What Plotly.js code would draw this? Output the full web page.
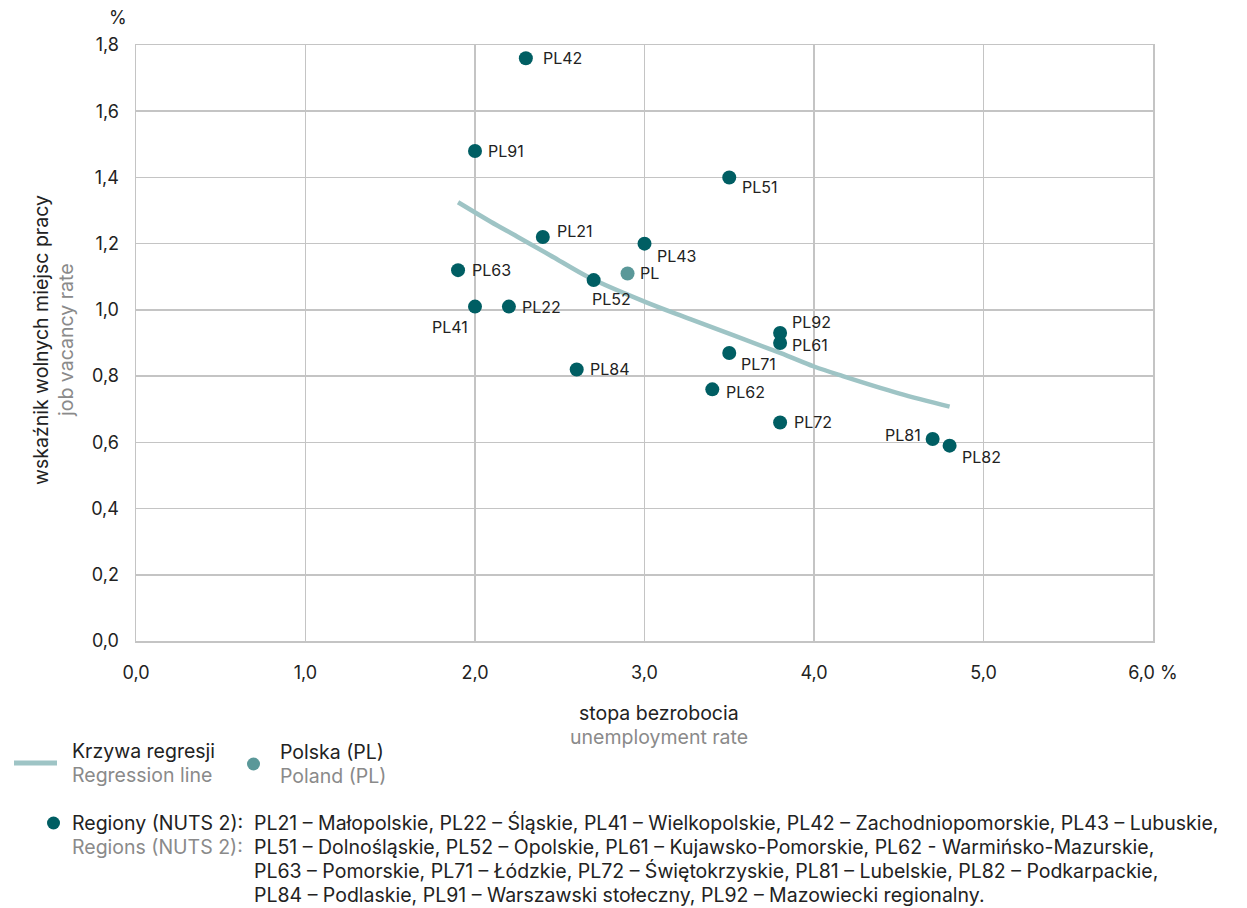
<!DOCTYPE html>
<html><head><meta charset="utf-8">
<script src="https://cdn.plot.ly/plotly-3.0.1.min.js"></script>
<style>body{margin:0;background:#fff}#chart{width:1247px;height:908px}</style>
</head><body><div id="chart"></div>
<script>
// Regions (NUTS 2)
const regionCodes = ['PL42','PL91','PL51','PL21','PL43','PL63','PL52','PL41','PL22','PL92','PL61','PL71','PL84','PL62','PL72','PL81','PL82'];
const regionUnemp = [2.3, 2.0, 3.5, 2.4, 3.0, 1.9, 2.7, 2.0, 2.2, 3.8, 3.8, 3.5, 2.6, 3.4, 3.8, 4.7, 4.8];
const regionVacancy = [1.76, 1.48, 1.40, 1.22, 1.20, 1.12, 1.09, 1.01, 1.01, 0.93, 0.90, 0.87, 0.82, 0.76, 0.66, 0.61, 0.59];
// Poland
const polandCode = ['PL'];
const polandUnemp = [2.9];
const polandVacancy = [1.11];
// Regression curve
const regX = [1.9, 2.09, 2.25, 2.44, 2.68, 3.0, 3.27, 3.8, 4.0, 4.17, 4.5, 4.8];
const regY = [1.325, 1.267, 1.221, 1.166, 1.096, 1.025, 0.972, 0.870, 0.829, 0.800, 0.748, 0.708];
// Ticks
const xTicks = [0,1,2,3,4,5,6];
const xTickText = ['0,0','1,0','2,0','3,0','4,0','5,0','6,0 %'];
const yTicks = [0,0.2,0.4,0.6,0.8,1.0,1.2,1.4,1.6,1.8];
const yTickText = ['0,0','0,2','0,4','0,6','0,8','1,0','1,2','1,4','1,6','1,8'];
// Legend texts
const legendRegionLines = [
 'PL21 – Małopolskie, PL22 – Śląskie, PL41 – Wielkopolskie, PL42 – Zachodniopomorskie, PL43 – Lubuskie,',
 'PL51 – Dolnośląskie, PL52 – Opolskie, PL61 – Kujawsko-Pomorskie, PL62 - Warmińsko-Mazurskie,',
 'PL63 – Pomorskie, PL71 – Łódzkie, PL72 – Świętokrzyskie, PL81 – Lubelskie, PL82 – Podkarpackie,',
 'PL84 – Podlaskie, PL91 – Warszawski stołeczny, PL92 – Mazowiecki regionalny.'
];

// label placement styles (anchor, x shift px, y shift px) per region
const labelAnchor = ['left','left','left','left','left','left','center','right','left','left','left','left','left','left','left','right','left'];
const labelDX = [15,11,11,12,10,12,18,-5,11,10,10,10,11,12,12,-10,10];
const labelDY = [0,0,-10,6,-12,0,-19,-20,0,11,-2,-11,0,-3,0,4,-11];

const DARK = '#005e63', PLC = '#5a9899', REGC = '#9ec4c5';
const FONT = 'Inter, "Open Sans", sans-serif';
const TXT = '#222', GREY = '#8a8a8a';
const FS = 19.5;

const traces = [
 {x: regX, y: regY, mode:'lines', type:'scatter', line:{color:REGC, width:4.5, shape:'spline', smoothing:1}, hoverinfo:'skip'},
 {x: regionUnemp, y: regionVacancy, mode:'markers', type:'scatter', marker:{color:DARK, size:14}},
 {x: polandUnemp, y: polandVacancy, mode:'markers', type:'scatter', marker:{color:PLC, size:14}}
];

const ann = [];
regionCodes.forEach((c,i)=>ann.push({x:regionUnemp[i], y:regionVacancy[i], text:c, showarrow:false,
  xanchor:labelAnchor[i], yanchor:'middle', xshift:labelDX[i], yshift:labelDY[i],
  font:{family:FONT,size:16,color:TXT}}));
polandCode.forEach((c,i)=>ann.push({x:polandUnemp[i], y:polandVacancy[i], text:c, showarrow:false,
  xanchor:'left', yanchor:'middle', xshift:10, font:{family:FONT,size:16,color:TXT}}));

const L=136,R=1153,T=45,B=641;
const px = v => (v-L)/(R-L), py = v => (B-v)/(B-T);
function A(x,y,text,opt){ann.push(Object.assign({xref:'paper',yref:'paper',x:px(x),y:py(y),text:text,showarrow:false,
  font:{family:FONT,size:FS,color:TXT},xanchor:'left',yanchor:'middle',align:'left'},opt||{}));}
const G = {family:FONT,size:FS,color:GREY};
A(118, 18, '%', {xanchor:'center', font:{family:FONT,size:18,color:TXT}});
A(41, 340, 'wskaźnik wolnych miejsc pracy', {xanchor:'center', textangle:-90});
A(66, 340, 'job vacancy rate', {xanchor:'center', textangle:-90, font:G});
A(659, 713, 'stopa bezrobocia', {xanchor:'center'});
A(659, 737, 'unemployment rate', {xanchor:'center', font:G});
A(70, 751, 'Krzywa regresji');
A(70, 775, 'Regression line', {font:G});
A(278, 752, 'Polska (PL)');
A(278, 776, 'Poland (PL)', {font:G});
A(70, 823, 'Regiony (NUTS 2):');
A(70, 847, 'Regions (NUTS 2):', {font:G});
legendRegionLines.forEach((t,i)=>A(252, 823+24*i, t));

const shapes = [
 {type:'line', xref:'paper', yref:'paper', x0:px(14), x1:px(57), y0:py(763), y1:py(763), line:{color:REGC, width:5}},
 {type:'circle', xref:'paper', yref:'paper', x0:px(247), x1:px(260), y0:py(757.5), y1:py(770.5), fillcolor:PLC, line:{width:0}},
 {type:'circle', xref:'paper', yref:'paper', x0:px(47), x1:px(60), y0:py(816.5), y1:py(829.5), fillcolor:DARK, line:{width:0}}
];

const layout = {
 width:1247, height:908, margin:{l:L, r:1247-R, t:T, b:908-B},
 paper_bgcolor:'#fff', plot_bgcolor:'#fff', showlegend:false,
 font:{family:FONT, size:FS, color:TXT},
 xaxis:{range:[0,6], tickvals:xTicks, ticktext:xTickText, showgrid:true, gridcolor:'#c4c4c4', gridwidth:1.5,
   zeroline:false, showline:true, linecolor:'#c4c4c4', linewidth:1.5, mirror:true, ticks:'', ticklabelstandoff:15,
   tickfont:{family:FONT,size:18,color:TXT}},
 yaxis:{range:[0,1.8], tickvals:yTicks, ticktext:yTickText, showgrid:true, gridcolor:'#c4c4c4', gridwidth:1.5,
   zeroline:false, showline:true, linecolor:'#c4c4c4', linewidth:1.5, mirror:true, ticks:'', ticklabelstandoff:12,
   tickfont:{family:FONT,size:18,color:TXT}},
 annotations: ann, shapes: shapes
};
Plotly.newPlot('chart', traces, layout, {staticPlot:true, displayModeBar:false});
</script></body></html>
